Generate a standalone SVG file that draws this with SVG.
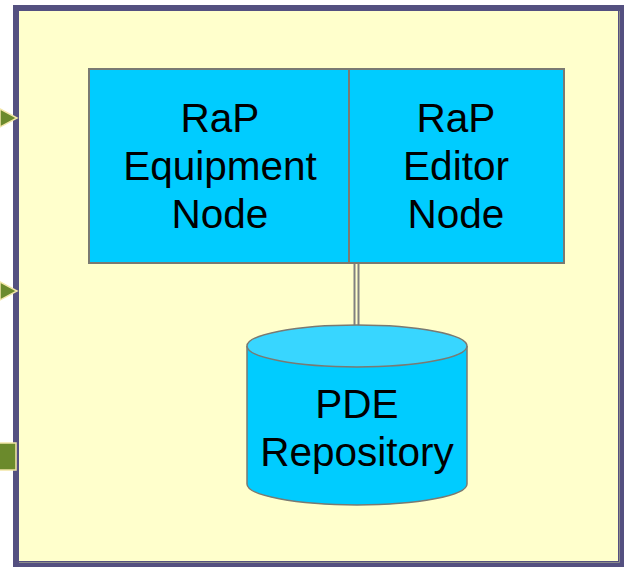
<svg xmlns="http://www.w3.org/2000/svg" width="624" height="567" viewBox="0 0 624 567">
  <defs>
    <style>
      .lbl { font-family: "Liberation Sans", Arial, sans-serif; font-size: 40.5px; fill: #000; text-anchor: middle; }
      .box { fill: #00CCFF; stroke: #7A7A72; stroke-width: 2; }
      .port { fill: #6B8A2C; stroke: #F2E6A8; stroke-width: 1.5; }
      .link { stroke: #808080; stroke-width: 2; fill: none; }
    </style>
  </defs>

  <!-- page background -->
  <rect x="0" y="0" width="624" height="567" fill="#FFFFFF"/>

  <!-- subsystem frame -->
  <g id="frame">
    <rect x="16" y="8" width="605" height="556" fill="#FFFFCC" stroke="#545080" stroke-width="6"/>
    <path d="M19 562.5 H619.5 V11" fill="none" stroke="#8C8C8C" stroke-width="1"/>
  </g>

  <!-- boundary ports on the left edge -->
  <g id="port-in-1">
    <polygon class="port" points="0,109 17,118 0,127"/>
  </g>
  <g id="port-in-2">
    <polygon class="port" points="0,282 17,291 0,300"/>
  </g>
  <g id="port-square">
    <rect class="port" x="-2" y="443" width="18" height="27"/>
  </g>

  <!-- connectors -->
  <g id="connectors">
    <line class="link" x1="354.5" y1="263" x2="354.5" y2="326"/>
    <line class="link" x1="358.5" y1="263" x2="358.5" y2="326"/>
  </g>

  <!-- equipment node -->
  <g id="equipment-node">
    <rect class="box" x="89" y="69" width="260" height="194"/>
    <text class="lbl" x="220" y="132">RaP</text>
    <text class="lbl" x="220" y="180">Equipment</text>
    <text class="lbl" x="220" y="228">Node</text>
  </g>

  <!-- editor node -->
  <g id="editor-node">
    <rect class="box" x="349" y="69" width="215" height="194"/>
    <text class="lbl" x="456" y="132">RaP</text>
    <text class="lbl" x="456" y="180">Editor</text>
    <text class="lbl" x="456" y="228">Node</text>
  </g>

  <!-- repository -->
  <g id="pde-repository">
    <path d="M247 346 V484 A110 21 0 0 0 467 484 V346" fill="#00CCFF" stroke="#7A7A72" stroke-width="1.5"/>
    <ellipse cx="357" cy="346" rx="110" ry="21" fill="#38D6FF" stroke="#7A7A72" stroke-width="1.5"/>
    <text class="lbl" x="357" y="418">PDE</text>
    <text class="lbl" x="357" y="466">Repository</text>
  </g>
</svg>
